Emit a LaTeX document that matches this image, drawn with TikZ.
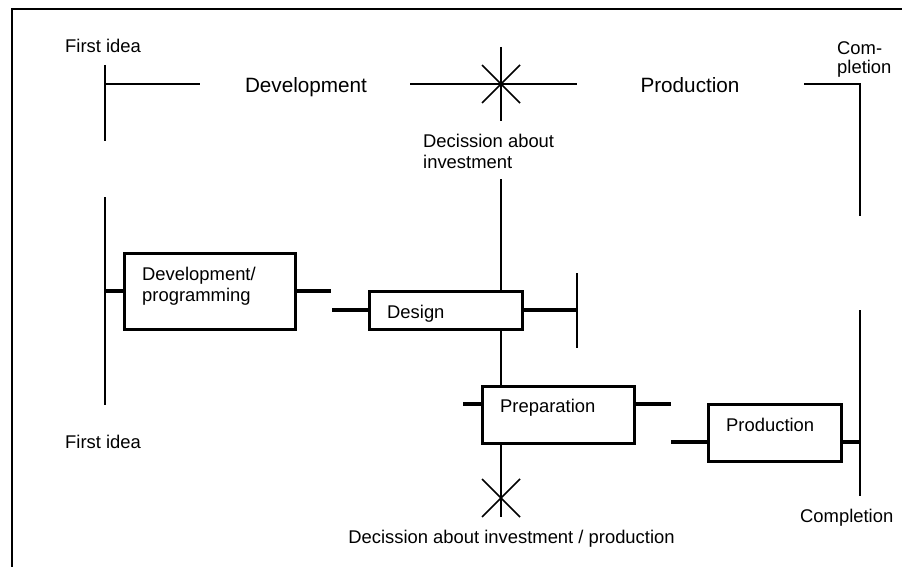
\documentclass[tikz,border=0pt]{standalone}
\usepackage{fontspec}
\setmainfont{Liberation Sans}

\tikzset{
  rule/.style={line width=1.5pt},
  stub/.style={line width=4.5pt},
  box/.style={draw,line width=3pt,fill=white,inner sep=0pt},
  lbl/.style={font=\fontsize{18.4}{20.5}\selectfont,inner sep=0pt,align=left},
  head/.style={font=\fontsize{20.7}{24}\selectfont,inner sep=0pt},
}

\begin{document}
\begin{tikzpicture}[x=1pt,y=-1pt]
  \useasboundingbox (0,0) rectangle (902,567);
  \draw[line width=1.8pt] (12,567) -- (12,9) -- (902,9);

  % phases on top
  \node[lbl,anchor=base west] (idea1) at (65,53) {First idea};
  \coordinate (startA) at (105,65);
  \coordinate (startB) at (105,141);
  \coordinate (startC) at (105,84);
  \draw[rule] (startA) -- (startB);
  \draw[rule] (startC) -- (200,84);
  \node[head,anchor=base] (devhead) at (306,93) {Development};
  \node[head,anchor=base] (prodhead) at (690,93) {Production};
  \coordinate (invest) at (501,84);
  \draw[rule] (410,84) -- (577,84);
  \draw[rule] (501,47) -- (501,121);
  \draw[rule] (482,65) -- (520,103);
  \draw[rule] (482,103) -- (520,65);
  \coordinate (endA) at (804,84);
  \coordinate (endB) at (860,84);
  \coordinate (endC) at (860,216);
  \draw[rule] (endA) -- (endB) -- (endC);
  \node[lbl,anchor=base west,font=\fontsize{18.4}{19}\selectfont] (compl1) at (837,74) {Com-\\pletion};
  \node[lbl,anchor=base west] (decide1) at (423,168) {Decission about\\investment};

  % activities
  \coordinate (midtop) at (501,179);
  \coordinate (midbot) at (501,517);
  \draw[rule] (midtop) -- (midbot);
  \draw[rule] (482,479) -- (520,517);
  \draw[rule] (482,517) -- (520,479);

  \coordinate (leftA) at (105,197);
  \coordinate (leftB) at (105,405);
  \draw[rule] (leftA) -- (leftB);
  \coordinate (dsgend) at (577,273);
  \draw[rule] (dsgend) -- (577,348);
  \coordinate (rightA) at (860,310);
  \coordinate (rightB) at (860,496);
  \draw[rule] (rightA) -- (rightB);

  \node[box,minimum width=171,minimum height=76] (devbox) at (209.5,291) {};
  \node[box,minimum width=153,minimum height=38] (dsgbox) at (445.5,310) {};
  \node[box,minimum width=152,minimum height=57] (prepbox) at (558,414.5) {};
  \node[box,minimum width=133,minimum height=57] (prodbox) at (774.5,432.5) {};

  \node[lbl,anchor=base west] (devtxt) at (142,301) {Development/\\programming};
  \node[lbl,anchor=base west] (dsgtxt) at (387,318) {Design};
  \node[lbl,anchor=base west] (preptxt) at (500,412) {Preparation};
  \node[lbl,anchor=base west] (prodtxt) at (726,431) {Production};

  \coordinate (devout) at (331,291);
  \coordinate (dsgin) at (332,310);
  \coordinate (prepin) at (463,404);
  \coordinate (prepout) at (671,404);
  \coordinate (prodin) at (671,442);
  \draw[stub] (devbox.west -| leftA) -- (devbox.west);
  \draw[stub] (devbox.east) -- (devout);
  \draw[stub] (dsgin) -- (dsgbox.west);
  \draw[stub] (dsgbox.east) -- (dsgbox.east -| dsgend);
  \draw[stub] (prepin) -- (prepin -| prepbox.west);
  \draw[stub] (prepbox.east |- prepout) -- (prepout);
  \draw[stub] (prodin) -- (prodin -| prodbox.west);
  \draw[stub] (prodbox.east |- prodin) -- (prodin -| rightA);

  \node[lbl,anchor=base west] (idea2) at (65,448) {First idea};
  \node[lbl,anchor=base west] (compl2) at (800,522) {Completion};
  \node[lbl,anchor=base] (decide2) at (511.5,543) {Decission about investment / production};
\end{tikzpicture}
\end{document}
